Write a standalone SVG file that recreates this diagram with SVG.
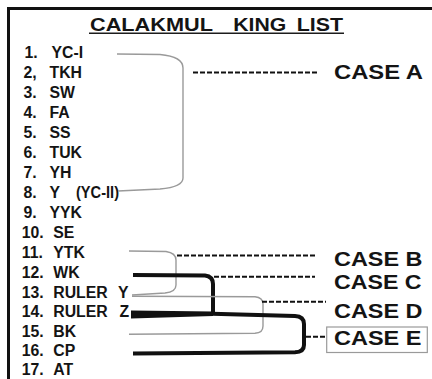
<svg xmlns="http://www.w3.org/2000/svg" width="432" height="379" viewBox="0 0 432 379">
<style>
.t{font-family:"Liberation Sans",Arial,sans-serif;font-weight:bold;fill:#141414;white-space:pre}
.it{font-size:15.8px}
.cs{font-size:19.5px}
.thin{fill:none;stroke:#9a9a9a;stroke-width:1.4}
.thick{fill:none;stroke:#111;stroke-width:4}
.dash{fill:none;stroke:#111;stroke-width:2;stroke-dasharray:5 2}
</style>
<rect width="432" height="379" fill="#fff"/>
<rect id="frame" x="8.5" y="8.5" width="440" height="400" fill="none" stroke="#111" stroke-width="3"/>
<g id="title">
<text class="t" x="90" y="30.5" font-size="17.5" textLength="123" lengthAdjust="spacingAndGlyphs">CALAKMUL</text>
<text class="t" x="233.3" y="30.5" font-size="17.5" textLength="53" lengthAdjust="spacingAndGlyphs">KING</text>
<text class="t" x="296.7" y="30.5" font-size="17.5" textLength="46.3" lengthAdjust="spacingAndGlyphs">LIST</text>
<line x1="89" y1="33.3" x2="344" y2="33.3" stroke="#1c1c1c" stroke-width="1.5"/>
</g>
<g id="kings" class="t it">
<g id="k1"><text x="24.5" y="58.3">1.</text><text x="51.5" y="58.3">YC-I</text></g>
<g id="k2"><text x="23.5" y="78.3">2,</text><text x="49.5" y="78.3">TKH</text></g>
<g id="k3"><text x="23.5" y="98.3">3.</text><text x="49.5" y="98.3">SW</text></g>
<g id="k4"><text x="23.5" y="118.3">4.</text><text x="49.5" y="118.3">FA</text></g>
<g id="k5"><text x="23.5" y="138.3">5.</text><text x="49.5" y="138.3">SS</text></g>
<g id="k6"><text x="23.5" y="158.3">6.</text><text x="49.5" y="158.3">TUK</text></g>
<g id="k7"><text x="23.5" y="178.3">7.</text><text x="49.5" y="178.3">YH</text></g>
<g id="k8"><text x="23.5" y="198.3">8.</text><text x="49.5" y="198.3">Y</text><text x="76" y="198.3" textLength="43" lengthAdjust="spacingAndGlyphs">(YC-II)</text></g>
<g id="k9"><text x="23.5" y="218">9.</text><text x="49.5" y="218">YYK</text></g>
<g id="k10"><text x="21.8" y="238.3">10.</text><text x="53.3" y="238.3">SE</text></g>
<g id="k11"><text x="21.8" y="258.3">11.</text><text x="53.3" y="258.3">YTK</text></g>
<g id="k12"><text x="21.8" y="278.3">12.</text><text x="53.3" y="278.3">WK</text></g>
<g id="k13"><text x="21.8" y="298.3">13.</text><text x="53.3" y="298.3">RULER</text><text x="118" y="298.3">Y</text></g>
<g id="k14"><text x="21.8" y="317">14.</text><text x="53.3" y="317">RULER</text><text x="119.5" y="317">Z</text></g>
<g id="k15"><text x="21.8" y="336.7">15.</text><text x="53.3" y="336.7">BK</text></g>
<g id="k16"><text x="21.8" y="356">16.</text><text x="53.3" y="356">CP</text></g>
<g id="k17"><text x="21.8" y="375">17.</text><text x="53.3" y="375">AT</text></g>
</g>
<g id="connectors">
<path class="thin" d="M117,54 L160,54.5 Q183,56.5 183,68 L183,178 Q183,187 160,189 L118,191"/>
<path class="dash" d="M193,72.5 H318"/>
<path class="thin" d="M129,251 L166,251.5 Q176,253 176,260 L176,285 Q176,292 165,293 L132,295"/>
<path class="dash" d="M177,255.5 H315"/>
<path class="thick" d="M133,275 L205,275.5 Q213,276.5 213,284 L213,313"/>
<path class="dash" d="M214,276.7 H315"/>
<path class="thin" d="M132,296.3 L255,296.7 Q263,297.5 263,304 L263,326 Q263,333 255,333.3 L129,334.3"/>
<path class="dash" d="M262,301.7 H326"/>
<polygon points="131,310.5 213,311.6 213,316 131,318.5" fill="#111"/>
<path class="thick" d="M212,313.8 L295,316 Q304,316.5 304,324 L304,345 Q304,352 295,352.3 L133,353.5" stroke-width="4.3"/>
<path class="dash" d="M306,336.7 H326"/>
</g>
<g id="cases" class="t cs">
<g id="caseA"><text x="334" y="78.7" font-size="20.5" textLength="89" lengthAdjust="spacingAndGlyphs">CASE  A</text></g>
<g id="caseB"><text x="334" y="265.5" textLength="88.5" lengthAdjust="spacingAndGlyphs">CASE  B</text></g>
<g id="caseC"><text x="334" y="288.5" textLength="87.5" lengthAdjust="spacingAndGlyphs">CASE  C</text></g>
<g id="caseD"><text x="334" y="318" textLength="88.5" lengthAdjust="spacingAndGlyphs">CASE  D</text></g>
<g id="caseE"><rect x="326.7" y="327" width="100.6" height="25.5" fill="none" stroke="#9a9a9a" stroke-width="1.2"/><text x="334" y="344.5" textLength="87.5" lengthAdjust="spacingAndGlyphs">CASE  E</text></g>
</g>
</svg>
